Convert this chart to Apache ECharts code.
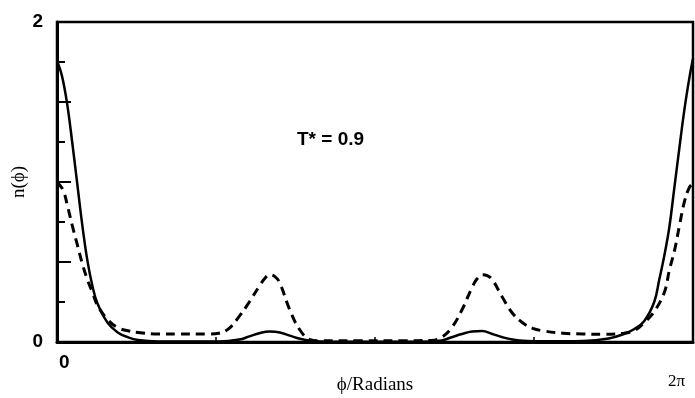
<!DOCTYPE html>
<html>
<head>
<meta charset="utf-8">
<script src="https://cdn.jsdelivr.net/npm/echarts@6/dist/echarts.min.js"></script>
<style>
  html, body { margin: 0; padding: 0; background: #fff; }
  #chart { width: 695px; height: 398px; }
</style>
</head>
<body>
<div id="chart"></div>
<script>
// angle (radians) and n(phi)
const phiSolid = [0, 0.05, 0.1, 0.15, 0.2, 0.25, 0.3, 0.35, 0.4, 0.5, 0.6, 0.7, 0.8, 1.0, 1.6, 1.8, 1.9, 2.0, 2.1, 2.2, 2.3, 2.4, 2.5, 2.7, 3.6, 3.8, 3.9, 4.0, 4.1, 4.2, 4.3, 4.4, 4.5, 4.6, 4.8, 5.2, 5.45, 5.6, 5.7, 5.8, 5.9, 5.95, 6.0, 6.05, 6.1, 6.15, 6.2, 6.25, 6.283]
const nSolid = [1.76, 1.66, 1.49, 1.25, 0.99, 0.73, 0.51, 0.35, 0.24, 0.12, 0.06, 0.03, 0.012, 0.003, 0.003, 0.015, 0.035, 0.055, 0.065, 0.06, 0.04, 0.02, 0.008, 0.002, 0.002, 0.01, 0.03, 0.05, 0.065, 0.068, 0.05, 0.03, 0.015, 0.008, 0.004, 0.006, 0.022, 0.05, 0.08, 0.13, 0.25, 0.39, 0.54, 0.72, 0.97, 1.22, 1.46, 1.66, 1.77]

const phiDashed = [0, 0.06, 0.1, 0.15, 0.2, 0.25, 0.3, 0.35, 0.4, 0.5, 0.6, 0.7, 0.8, 1.0, 1.2, 1.4, 1.5, 1.6, 1.7, 1.8, 1.9, 2.0, 2.05, 2.1, 2.15, 2.2, 2.3, 2.4, 2.5, 2.6, 3.0, 3.4, 3.7, 3.8, 3.9, 4.0, 4.1, 4.15, 4.2, 4.25, 4.3, 4.4, 4.5, 4.6, 4.7, 4.8, 5.0, 5.2, 5.4, 5.6, 5.7, 5.8, 5.9, 6.0, 6.05, 6.1, 6.15, 6.2, 6.25, 6.283]
const nDashed = [1.0, 0.95, 0.86, 0.73, 0.61, 0.49, 0.39, 0.31, 0.23, 0.14, 0.09, 0.07, 0.06, 0.05, 0.05, 0.05, 0.05, 0.055, 0.085, 0.16, 0.25, 0.35, 0.395, 0.42, 0.41, 0.37, 0.2, 0.075, 0.015, 0.008, 0.008, 0.008, 0.01, 0.03, 0.09, 0.2, 0.34, 0.395, 0.42, 0.415, 0.39, 0.28, 0.18, 0.12, 0.085, 0.07, 0.055, 0.05, 0.048, 0.055, 0.07, 0.12, 0.19, 0.31, 0.45, 0.57, 0.73, 0.88, 0.97, 0.99]

const xTickLabels = { min: '0', max: '2π' }
const yTickLabels = ['0', '2']
const annotation = 'T* = 0.9'

const pairs = (xs, ys) => xs.map((x, i) => [x, ys[i]])
const TWO_PI = 2 * Math.PI

const chart = echarts.init(document.getElementById('chart'))

const option = {
  animation: false,
  title: {
    text: annotation,
    left: 297,
    top: 130,
    padding: 0,
    textStyle: { fontFamily: 'Liberation Sans', fontWeight: 'bold', fontSize: 19, color: '#000' }
  },
  grid: {
    left: 57, right: 2, top: 22, bottom: 56,
    outerBoundsMode: 'none',
    containLabel: false,
    show: true, borderColor: '#000', borderWidth: 2.5, backgroundColor: 'transparent'
  },
  xAxis: {
    type: 'value',
    min: 0,
    max: TWO_PI,
    interval: Math.PI / 2,
    name: 'ϕ/Radians',
    nameLocation: 'middle',
    nameGap: 34,
    nameMoveOverlap: false,
    nameTextStyle: { fontFamily: 'Liberation Serif', fontSize: 19, color: '#000' },
    axisLine: { show: true, lineStyle: { color: '#000', width: 3 } },
    axisTick: { show: true, inside: true, length: 5, lineStyle: { color: '#000', width: 1.5 } },
    splitLine: { show: false },
    axisLabel: {
      margin: 11,
      alignMinLabel: 'left',
      alignMaxLabel: 'right',
      formatter: v => {
        if (Math.abs(v) < 1e-6) return '{a|' + xTickLabels.min + '}'
        if (Math.abs(v - TWO_PI) < 1e-6) return '{b|' + xTickLabels.max + '}'
        return ''
      },
      rich: {
        a: { fontFamily: 'Liberation Sans', fontWeight: 'bold', fontSize: 19, color: '#000', padding: [0, 0, 0, 2] },
        b: { fontFamily: 'Liberation Serif', fontSize: 17, color: '#000', padding: [20, 8, 0, 0] }
      }
    }
  },
  yAxis: {
    type: 'value',
    min: 0,
    max: 2,
    interval: 0.5,
    name: 'n(ϕ)',
    nameLocation: 'middle',
    nameGap: 28,
    nameMoveOverlap: false,
    nameTextStyle: { fontFamily: 'Liberation Serif', fontSize: 19, color: '#000' },
    axisLine: { show: true, lineStyle: { color: '#000', width: 3 } },
    axisTick: { show: true, inside: true, length: 14, lineStyle: { color: '#000', width: 2 } },
    minorTick: { show: true, splitNumber: 2, length: 8, lineStyle: { color: '#000', width: 2 } },
    splitLine: { show: false },
    axisLabel: {
      margin: 14,
      formatter: v => (v === 0 ? yTickLabels[0] : v === 2 ? yTickLabels[1] : ''),
      fontFamily: 'Liberation Sans',
      fontWeight: 'bold',
      fontSize: 19,
      color: '#000'
    }
  },
  series: [
    {
      type: 'line',
      data: pairs(phiSolid, nSolid),
      showSymbol: false,
      smooth: 0.4,
      lineStyle: { color: '#000', width: 2.5 }
    },
    {
      type: 'line',
      data: pairs(phiDashed, nDashed),
      showSymbol: false,
      smooth: 0.4,
      lineStyle: { color: '#000', width: 3, type: [9, 6] }
    }
  ]
}

chart.setOption(option)
</script>
</body>
</html>
